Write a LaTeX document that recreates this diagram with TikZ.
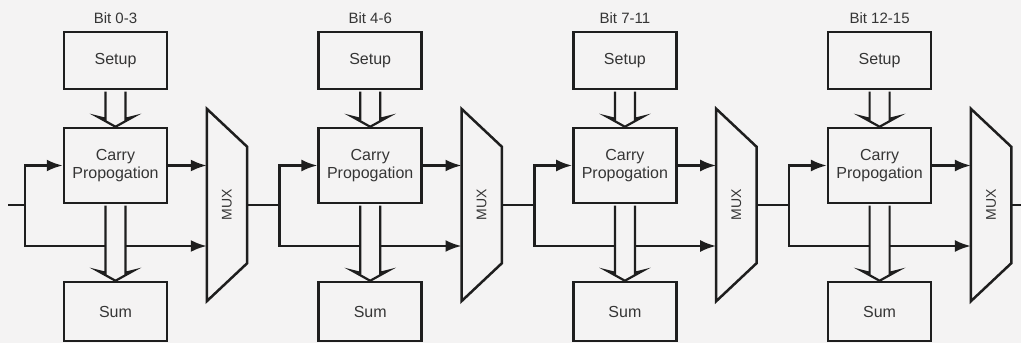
\documentclass[tikz,border=0pt]{standalone}
\usepackage{fontspec}
\setmainfont{Liberation Sans}
\usetikzlibrary{arrows.meta,calc}

\definecolor{paper}{RGB}{244,243,243}
\definecolor{ink}{RGB}{30,30,30}

\tikzset{
  blk/.style={draw=ink, line width=2.5pt, fill=paper, minimum width=103pt, inner sep=0pt,
    align=center, font=\fontsize{16}{18}\selectfont, text=ink!90},
  wire/.style={draw=ink, line width=2.5pt},
  fwd/.style={wire, -{Latex[length=16pt,width=12pt]}},
  fat/.style={draw=ink, line width=2.2pt, fill=paper, line join=miter},
  muxbox/.style={minimum width=40pt, minimum height=192pt, inner sep=0pt,
    font=\fontsize{14}{16}\selectfont, text=ink!90},
  bitlbl/.style={font=\fontsize{15}{17}\selectfont, text=ink!90}
}

% hollow (block) arrow between two boxes
\newcommand\fatarrow[2]{%
  \draw[fat] ([xshift=-10pt,yshift=-1.3pt]#1) -- ([xshift=-10pt,yshift=8pt]#2)
    -- ([xshift=-18pt,yshift=10pt]#2) -- (#2) -- ([xshift=18pt,yshift=10pt]#2)
    -- ([xshift=10pt,yshift=8pt]#2) -- ([xshift=10pt,yshift=-1.3pt]#1);}

\begin{document}
\begin{tikzpicture}[x=1pt,y=-1pt]
	\fill[paper] (0,0) rectangle (1021,343);
	\useasboundingbox (0,0) rectangle (1021,343);
	\coordinate (in) at (8,205);
	\coordinate (out) at (1021,205);
	% one slice per bit group
	\foreach \i/\bits in {0/{0-3},1/{4-6},2/{7-11},3/{12-15}} {
		\pgfmathsetmacro\ox{\i*254.7}
		\node[bitlbl] (bit\i) at (\ox+115.5,18) {Bit \bits};
		\node[blk, minimum height=57pt] (setup\i) at (\ox+115.5,60.5) {Setup};
		\node[blk, minimum height=75pt] (carry\i) at (\ox+115.5,165.5) {Carry\\Propogation};
		\node[blk, minimum height=59pt] (sum\i) at (\ox+115.5,311.5) {Sum};
		\node[muxbox] (mux\i) at (\ox+227,205) {\rotatebox{90}{MUX}};
		\draw[wire, line join=miter] (mux\i.north west) -- ([yshift=-38pt]mux\i.north east)
			-- ([yshift=38pt]mux\i.south east) -- (mux\i.south west) -- cycle;
		\coordinate (split\i) at (\ox+25,205);
		\draw[fwd] (split\i) |- (carry\i.west);
		\draw[fwd] (split\i) |- ([yshift=-41pt]mux\i.west);
		\draw[fwd] (carry\i.east) -- (carry\i.east -| mux\i.west);
		\fatarrow{setup\i.south}{carry\i.north}
		\fatarrow{carry\i.south}{sum\i.north}
	}
	% carry chain between slices
	\draw[wire] (in) -- (split0);
	\foreach \i [count=\n] in {0,1,2}
		\draw[wire] (mux\i.east) -- (split\n);
	\draw[wire] (mux3.east) -- (out);
\end{tikzpicture}
\end{document}
